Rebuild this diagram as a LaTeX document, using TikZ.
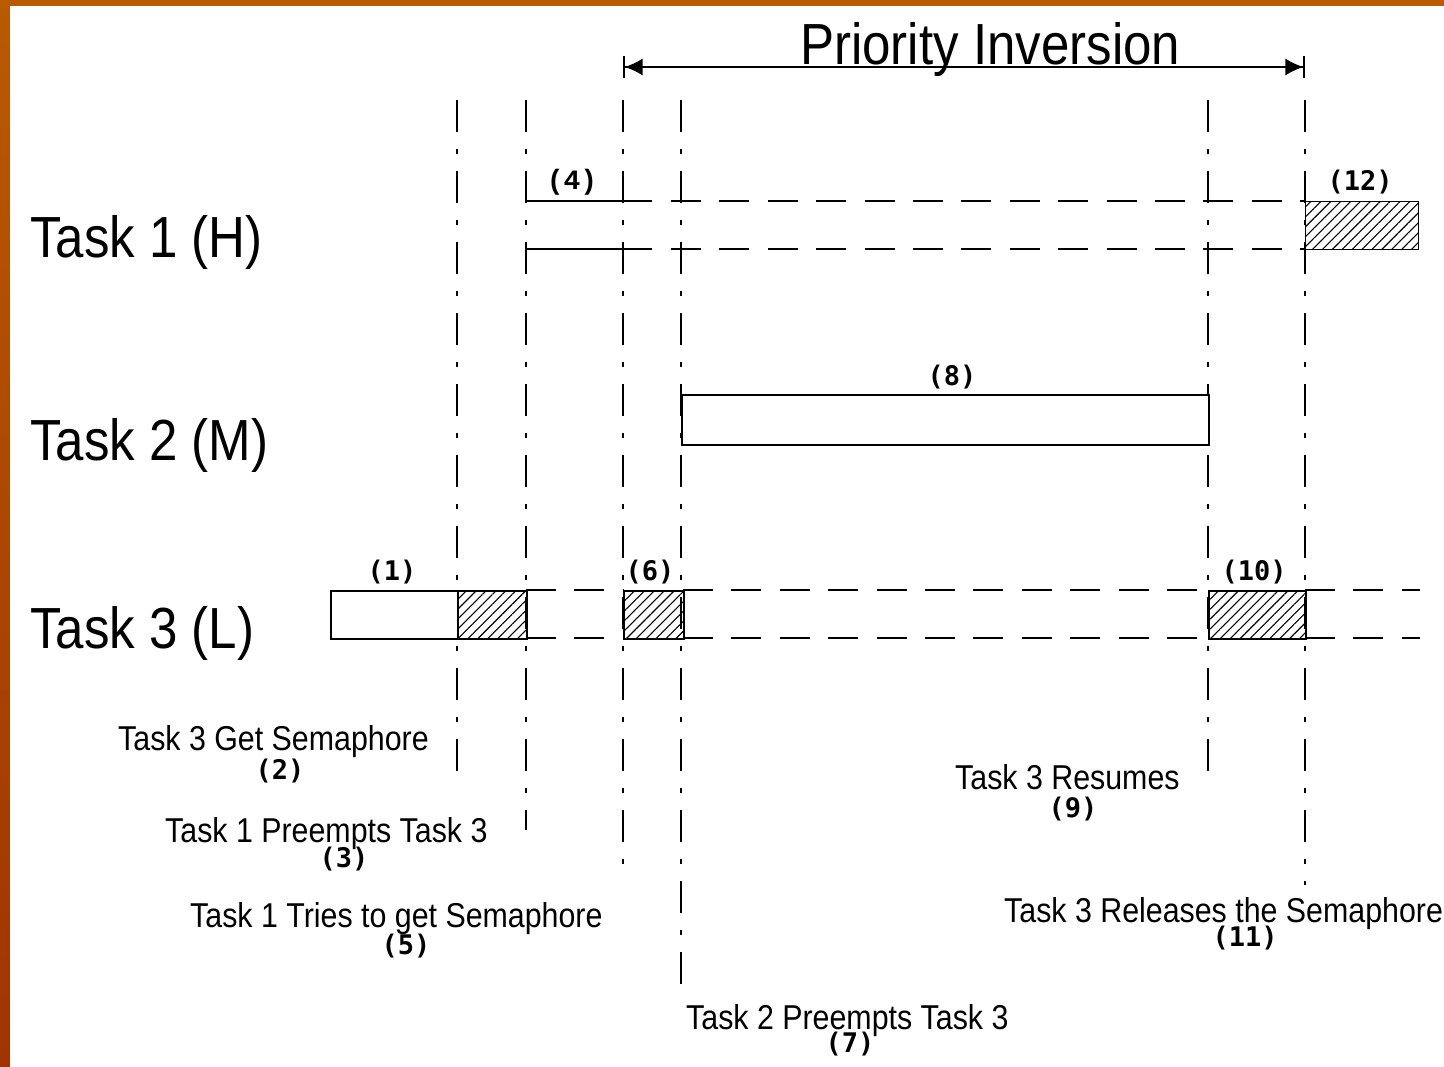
\documentclass[tikz,border=0pt]{standalone}
\usepackage{fontspec}
\setmainfont{Liberation Sans}
\newfontfamily\narrowfont[FakeStretch=0.88]{Liberation Sans}
\newfontfamily\numfont{DejaVu Sans Mono}
\newfontfamily\courfont{Liberation Mono}
\usetikzlibrary{arrows.meta,patterns.meta}
\definecolor{brdtop}{HTML}{B85A00}
\definecolor{brdbot}{HTML}{A03400}
\tikzset{
  guide/.style={line width=1.6pt, dash pattern=on 32pt off 17pt on 5pt off 17pt},
  lane/.style={line width=1.6pt, dash pattern=on 30pt off 18.4pt},
  solidline/.style={line width=1.6pt},
  plainbox/.style={draw, line width=1.6pt, fill=white},
  hatchbox/.style={draw, line width=1.6pt, pattern={Lines[angle=45,distance=7pt,line width=1.1pt]}},
  num/.style={font=\numfont\bfseries\fontsize{27}{27}\selectfont, inner sep=0pt},
  numc/.style={font=\courfont\bfseries\fontsize{28}{28}\selectfont, inner sep=0pt},
  big/.style={font=\narrowfont\fontsize{58}{58}\selectfont, inner sep=0pt, anchor=base west},
  small/.style={font=\narrowfont\fontsize{34.5}{34.5}\selectfont, inner sep=0pt, anchor=base west},
}
\begin{document}
\begin{tikzpicture}[x=1pt,y=-1pt]
\useasboundingbox (0,0) rectangle (1444,1067);
% frame
\fill[brdtop] (0,0) rectangle (1444,1067);
\shade[top color=brdtop, bottom color=brdbot] (0,0) rectangle (10,1067);
\fill[white] (10,6) rectangle (1444,1067);

% vertical dash-dot guides
\draw[guide] (457,100) -- (457,782);
\draw[guide] (526,100) -- (526,830);
\draw[guide] (623,100) -- (623,880);
\draw[guide] (681,100) -- (681,990);
\draw[guide] (1208,100) -- (1208,785);
\draw[guide] (1305,100) -- (1305,885);

% priority inversion arrow
\coordinate (pa) at (623,67);
\coordinate (pb) at (1305,67);
\draw[solidline, {Bar[width=22pt,line width=1.6pt]Latex[length=18pt,width=17pt]}-{Latex[length=18pt,width=17pt]Bar[width=22pt,line width=1.6pt]}] (pa) -- (pb);
\node[big] (title) at (800,65) {Priority Inversion};

% row labels
\node[big] (t1) at (30,258) {Task 1 (H)};
\node[big] (t2) at (30,460) {Task 2 (M)};
\node[big] (t3) at (30,648) {Task 3 (L)};

% Task 1 lane
\draw[solidline] (526,201) -- (652,201);
\draw[solidline] (526,249) -- (652,249);
\draw[lane] (671,201) -- (1305,201);
\draw[lane] (671,249) -- (1305,249);
\node[hatchbox, minimum width=113pt, minimum height=48pt, anchor=north west, inner sep=0pt] (b12) at (1305,201) {};
\node[numc] (n4) at (572,182) {(4)};
\node[num] (n12) at (1360,182) {(12)};

% Task 2 lane
\node[plainbox, minimum width=527pt, minimum height=50pt, anchor=north west, inner sep=0pt] (b8) at (681,394) {};
\node[num] (n8) at (952,377) {(8)};

% Task 3 lane
\node[plainbox, minimum width=127pt, minimum height=48pt, anchor=north west, inner sep=0pt] (b1) at (330,590) {};
\node[hatchbox, minimum width=69pt, minimum height=48pt, anchor=north west, inner sep=0pt] (b2) at (457,590) {};
\draw[lane] (526,590) -- (623,590);
\draw[lane] (526,638) -- (623,638);
\node[hatchbox, minimum width=60pt, minimum height=48pt, anchor=north west, inner sep=0pt] (b6) at (623,590) {};
\draw[lane] (683,590) -- (1208,590);
\draw[lane] (683,638) -- (1208,638);
\node[hatchbox, minimum width=97pt, minimum height=48pt, anchor=north west, inner sep=0pt] (b10) at (1208,590) {};
\draw[lane] (1305,590) -- (1420,590);
\draw[lane] (1305,638) -- (1420,638);
\node[num] (n1) at (392,572) {(1)};
\node[num] (n6) at (650,572) {(6)};
\node[num] (n10) at (1254,572) {(10)};

% event captions
\node[small] (c2) at (118,750) {Task 3 Get Semaphore};
\node[num] (n2) at (280,771) {(2)};
\node[small] (c3) at (165,842) {Task 1 Preempts Task 3};
\node[num] (n3) at (344,859) {(3)};
\node[small] (c5) at (190,927) {Task 1 Tries to get Semaphore};
\node[num] (n5) at (406,946) {(5)};
\node[small] (c9) at (955,789) {Task 3 Resumes};
\node[num] (n9) at (1073,809) {(9)};
\node[small] (c11) at (1004,922) {Task 3 Releases the Semaphore};
\node[num] (n11) at (1245,938) {(11)};
\node[small] (c7) at (686,1029) {Task 2 Preempts Task 3};
\node[num] (n7) at (850,1044) {(7)};
\end{tikzpicture}
\end{document}
